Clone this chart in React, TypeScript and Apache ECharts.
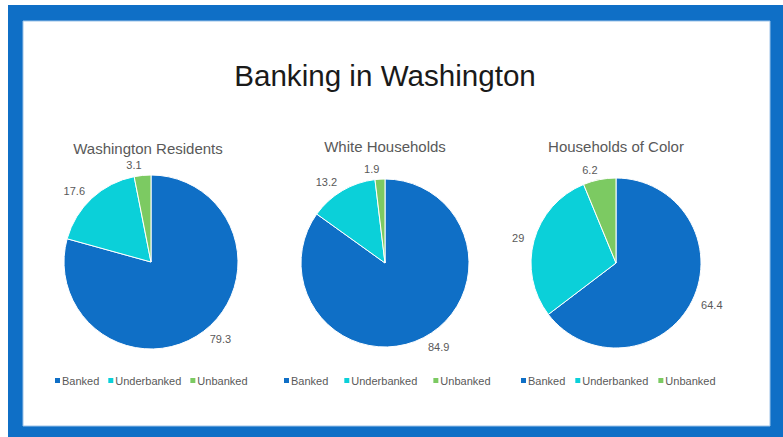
import React, { useEffect, useRef } from "react";
import * as echarts from "echarts";

const mainTitle = "Banking in Washington";
const categories = ["Banked", "Underbanked", "Unbanked"];
const pieTitles = ["Washington Residents", "White Households", "Households of Color"];
const residents = [79.3, 17.6, 3.1];
const whiteHouseholds = [84.9, 13.2, 1.9];
const householdsOfColor = [64.4, 29, 6.2];
const sliceColors = ["#0F6FC6", "#0BD0D9", "#7CCA62"];

const FONT = "'Liberation Sans', Arial, sans-serif";

export default function App() {
  const ref = useRef<HTMLDivElement>(null);

  useEffect(() => {
    if (!ref.current) return;
    const chart = echarts.init(ref.current, null, { renderer: "svg" });
    const seriesValues = [residents, whiteHouseholds, householdsOfColor];
    const centers = [
      [151, 262],
      [385, 263],
      [616, 263],
    ];
    const radii = [87, 84, 85];
    const titleX = [148, 385, 616];
    const titleTop = [141, 139, 139];
    const legendLeft = [55, 284, 521];
    const legendGap = [9, 16, 10];

    const option: any = {
      animation: false,
      backgroundColor: "#ffffff",
      color: sliceColors,
      graphic: [
        {
          type: "rect",
          z: -10,
          silent: true,
          shape: { x: 8, y: 5, width: 775, height: 432 },
          style: { fill: "#0F6FC6" },
        },
        {
          type: "rect",
          z: -9,
          silent: true,
          shape: { x: 23, y: 21, width: 747, height: 405 },
          style: { fill: "#ffffff", stroke: "#9cc3e8", lineWidth: 1 },
        },
      ],
      title: [
        {
          text: mainTitle,
          left: 385,
          top: 60,
          textAlign: "center",
          padding: 0,
          textStyle: { fontFamily: FONT, fontSize: 29.6, fontWeight: "normal", color: "#1a1a1a" },
        },
        ...pieTitles.map((t, i) => ({
          text: t,
          left: titleX[i],
          top: titleTop[i],
          textAlign: "center",
          padding: 0,
          textStyle: { fontFamily: FONT, fontSize: 15, fontWeight: "normal", color: "#595959" },
        })),
      ],
      legend: pieTitles.map((_, i) => ({
        data: categories,
        left: legendLeft[i],
        top: 375,
        padding: 0,
        orient: "horizontal",
        icon: "rect",
        itemWidth: 5,
        itemHeight: 5,
        itemGap: legendGap[i],
        selectedMode: false,
        itemStyle: { borderWidth: 0 },
        textStyle: { fontFamily: FONT, fontSize: 11, color: "#595959", padding: [0, 0, 0, -3] },
      })),
      series: seriesValues.map((vals, i) => ({
        type: "pie",
        center: centers[i],
        radius: radii[i],
        startAngle: 90,
        clockwise: true,
        avoidLabelOverlap: false,
        silent: true,
        itemStyle: { borderColor: "#ffffff", borderWidth: 1 },
        label: {
          show: true,
          position: "outside",
          formatter: "{c}",
          fontFamily: FONT,
          fontSize: 11,
          color: "#595959",
          distanceToLabelLine: 0,
        },
        labelLine: { show: false, length: 10, length2: 0 },
        data: categories.map((c, j) => ({ name: c, value: vals[j] })),
      })),
    };
    chart.setOption(option);
    return () => chart.dispose();
  }, []);

  return (
    <div
      ref={ref}
      style={{ position: "fixed", left: 0, top: 0, width: 783, height: 437 }}
    />
  );
}
